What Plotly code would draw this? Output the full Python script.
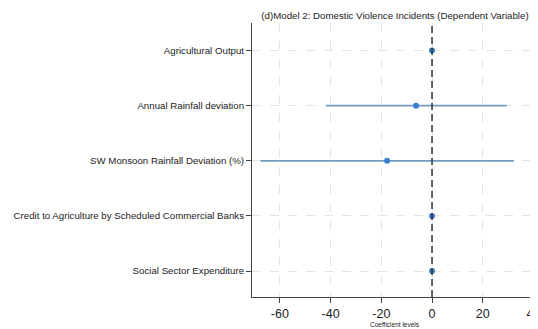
import plotly.graph_objects as go

categories = ["Agricultural Output", "Annual Rainfall deviation",
              "SW Monsoon Rainfall Deviation (%)",
              "Credit to Agriculture by Scheduled Commercial Banks",
              "Social Sector Expenditure"]
coef = [0.0, -6.3, -17.7, 0.0, 0.0]
ci_low = [-0.2, -41.8, -67.6, -0.2, -0.2]
ci_high = [0.2, 29.5, 32.3, 0.2, 0.2]
x_ticks = [-60, -40, -20, 0, 20, 40]

pos = list(range(1, len(categories) + 1))

fig = go.Figure()
for p, l, h in zip(pos, ci_low, ci_high):
    fig.add_trace(go.Scatter(x=[l, h], y=[p, p], mode="lines",
                             line=dict(color="#6f9dc2", width=1.7),
                             showlegend=False, hoverinfo="skip"))
fig.add_trace(go.Scatter(x=coef, y=pos, mode="markers",
                         marker=dict(color="#3b7fcc", size=6),
                         showlegend=False))

fig.add_shape(type="line", xref="x", yref="paper", x0=0, x1=0, y0=0, y1=1,
              line=dict(color="#333333", width=1.5, dash="7px,4px"))

# page body has an 8px default margin, so the figure is sized to fit the window
fig.update_layout(
    width=530, height=321,
    margin=dict(l=244, r=0, t=15, b=32, autoexpand=False),
    paper_bgcolor="white", plot_bgcolor="white",
    font=dict(family="Liberation Sans, Arial, sans-serif", color="#222222"),
    title=dict(text="(d)Model 2: Domestic Violence Incidents (Dependent Variable)",
               x=0.5, xref="paper", xanchor="center", y=1, yref="container",
               yanchor="top", pad=dict(t=4), font=dict(size=9.7, color="#222222")),
    xaxis=dict(range=[-71, 41.8], tickvals=x_ticks, ticktext=[str(v) for v in x_ticks],
               automargin=False, ticklabeloverflow="allow",
               showgrid=True, gridcolor="#e4e4e4", griddash="dash", gridwidth=1,
               zeroline=False, showline=True, linecolor="#444444", linewidth=1,
               ticks="outside", ticklen=5, tickcolor="#444444",
               tickfont=dict(size=12.5, color="#222222")),
    yaxis=dict(range=[5.47, 0.5], tickvals=pos, ticktext=categories,
               automargin=False,
               showgrid=True, gridcolor="#e4e4e4", griddash="dash", gridwidth=1,
               zeroline=False, showline=True, linecolor="#444444", linewidth=1,
               ticks="outside", ticklen=5, tickcolor="#444444",
               tickfont=dict(size=9.7, color="#222222")),
    annotations=[dict(text="Coefficient levels", xref="paper", yref="paper",
                      x=0.5, y=0, yshift=-27, xanchor="center", yanchor="middle",
                      showarrow=False, font=dict(size=6.5, color="#222222"))],
)

fig.write_html("out.html")
